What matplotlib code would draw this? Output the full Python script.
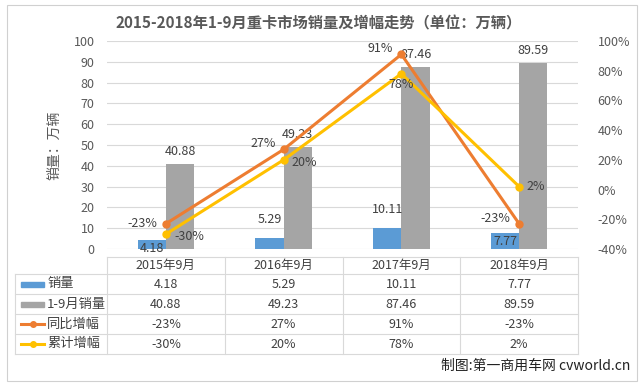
import numpy as np
import matplotlib
matplotlib.use("Agg")
import matplotlib.pyplot as plt
from matplotlib.patches import Rectangle

plt.rcParams['font.family'] = ['Noto Sans CJK SC', 'DejaVu Sans']

categories = ["2015年9月", "2016年9月", "2017年9月", "2018年9月"]
sales_sep = [4.18, 5.29, 10.11, 7.77]
sales_ytd = [40.88, 49.23, 87.46, 89.59]
yoy_sep = [-23, 27, 91, -23]
yoy_ytd = [-30, 20, 78, 2]

names = ["销量", "1-9月销量", "同比增幅", "累计增幅"]
c_blue, c_gray, c_orange, c_yellow = "#5B9BD5", "#A5A5A5", "#ED7D31", "#FFC000"
txt = "#595959"
grid = "#D9D9D9"

W, H = 644, 387
fig = plt.figure(figsize=(W / 100, H / 100), dpi=100)

# outer chart frame
fig.patches.append(Rectangle((7 / W, 6 / H), 630 / W, 376 / H, transform=fig.transFigure,
                             fill=False, edgecolor="#D0D0D0", lw=0.8))

ax = fig.add_axes([107 / W, 1 - 249 / H, 471 / W, 208 / H])
x = np.arange(len(categories))
bw = 0.24
ax.bar(x - bw / 2, sales_sep, bw, color=c_blue, zorder=2)
ax.bar(x + bw / 2, sales_ytd, bw, color=c_gray, zorder=2)
ax.set_xlim(-0.5, 3.5)
ax.set_ylim(0, 100)
ax.set_yticks(range(0, 101, 10))
ax.set_xticks([])
ax.grid(axis="y", color=grid, lw=0.8, zorder=0)
for s in ax.spines.values():
    s.set_visible(False)
ax.tick_params(axis="y", length=0, labelsize=9, colors=txt, pad=9)
ax.set_ylabel("销量：万辆", fontsize=10, color=txt, labelpad=9)

# bar labels
blue_off = [-6, 13, 13, -6]
for i, v in enumerate(sales_sep):
    ax.annotate(f"{v:.2f}", (x[i] - bw / 2, v), xytext=(0, blue_off[i]), textcoords="offset points",
                ha="center", va="center", fontsize=9, color="#404040", zorder=5)
for i, v in enumerate(sales_ytd):
    ax.annotate(f"{v:.2f}", (x[i] + bw / 2, v), xytext=(0, 9), textcoords="offset points",
                ha="center", va="center", fontsize=9, color="#404040", zorder=5)

ax2 = ax.twinx()
ax2.set_ylim(-40, 100)
ax2.set_yticks(range(-40, 101, 20))
ax2.set_yticklabels([f"{t}%" for t in range(-40, 101, 20)])
for s in ax2.spines.values():
    s.set_visible(False)
ax2.tick_params(axis="y", length=0, labelsize=9, colors=txt, pad=14)
ax2.plot(x, yoy_sep, color=c_orange, lw=2.2, marker="o", ms=5, zorder=4)
ax2.plot(x, yoy_ytd, color=c_yellow, lw=2.2, marker="o", ms=5, zorder=4)

off_sep = [(-17, 0), (-15, 4), (-15, 4), (-17, 4)]
off_ytd = [(17, -2), (15, -2), (0, -8), (12, 0)]
for i, v in enumerate(yoy_sep):
    ax2.annotate(f"{v}%", (x[i], v), xytext=off_sep[i], textcoords="offset points",
                 ha="center", va="center", fontsize=9, color="#404040", zorder=6)
for i, v in enumerate(yoy_ytd):
    ax2.annotate(f"{v}%", (x[i], v), xytext=off_ytd[i], textcoords="offset points",
                 ha="center", va="center", fontsize=9, color="#404040", zorder=6)

# data table
left_w = 92 / 117.75
tax = fig.add_axes([15 / W, 1 - 354 / H, 563 / W, 97 / H])
tax.set_xlim(-0.5 - left_w, 3.5)
tax.set_ylim(97, 0)
tax.axis("off")
rows = [0, 17, 37, 57, 77, 97]
lk = dict(color=grid, lw=0.8, clip_on=False)
tax.plot([-0.5, 3.5], [0, 0], **lk)
for r in rows[1:]:
    tax.plot([-0.5 - left_w, 3.5], [r, r], **lk)
tax.plot([-0.5 - left_w] * 2, [17, 97], **lk)
for b in np.arange(-0.5, 4.0, 1.0):
    tax.plot([b, b], [0, 97], **lk)

for i, c in enumerate(categories):
    tax.text(i, 8.5, c, ha="center", va="center", fontsize=9, color="#404040")

table_vals = [[f"{v:.2f}" for v in sales_sep], [f"{v:.2f}" for v in sales_ytd],
              [f"{v}%" for v in yoy_sep], [f"{v}%" for v in yoy_ytd]]
colors = [c_blue, c_gray, c_orange, c_yellow]
kx0 = -0.5 - left_w + 6 / 117.75
kx1 = kx0 + 23 / 117.75
for r, (nm, vals, col) in enumerate(zip(names, table_vals, colors)):
    yc = (rows[r + 1] + rows[r + 2]) / 2
    if r < 2:
        tax.add_patch(Rectangle((kx0, yc - 2.5), kx1 - kx0, 5, color=col))
    else:
        tax.plot([kx0, kx1], [yc, yc], color=col, lw=2.2)
        tax.plot([(kx0 + kx1) / 2], [yc], "o", color=col, ms=4)
    tax.text(kx1 + 3 / 117.75, yc, nm, ha="left", va="center", fontsize=9.5, color="#404040")
    for i, v in enumerate(vals):
        tax.text(i, yc, v, ha="center", va="center", fontsize=9, color="#404040")

fig.text(319 / W, 1 - 23 / H, "2015-2018年1-9月重卡市场销量及增幅走势（单位：万辆）",
         ha="center", va="center", fontsize=11, fontweight="bold", color=txt)
fig.text(630 / W, 1 - 366 / H, "制图:第一商用车网 cvworld.cn",
         ha="right", va="center", fontsize=10, color="#222222")

fig.savefig("out.png", dpi=100, facecolor="white")
